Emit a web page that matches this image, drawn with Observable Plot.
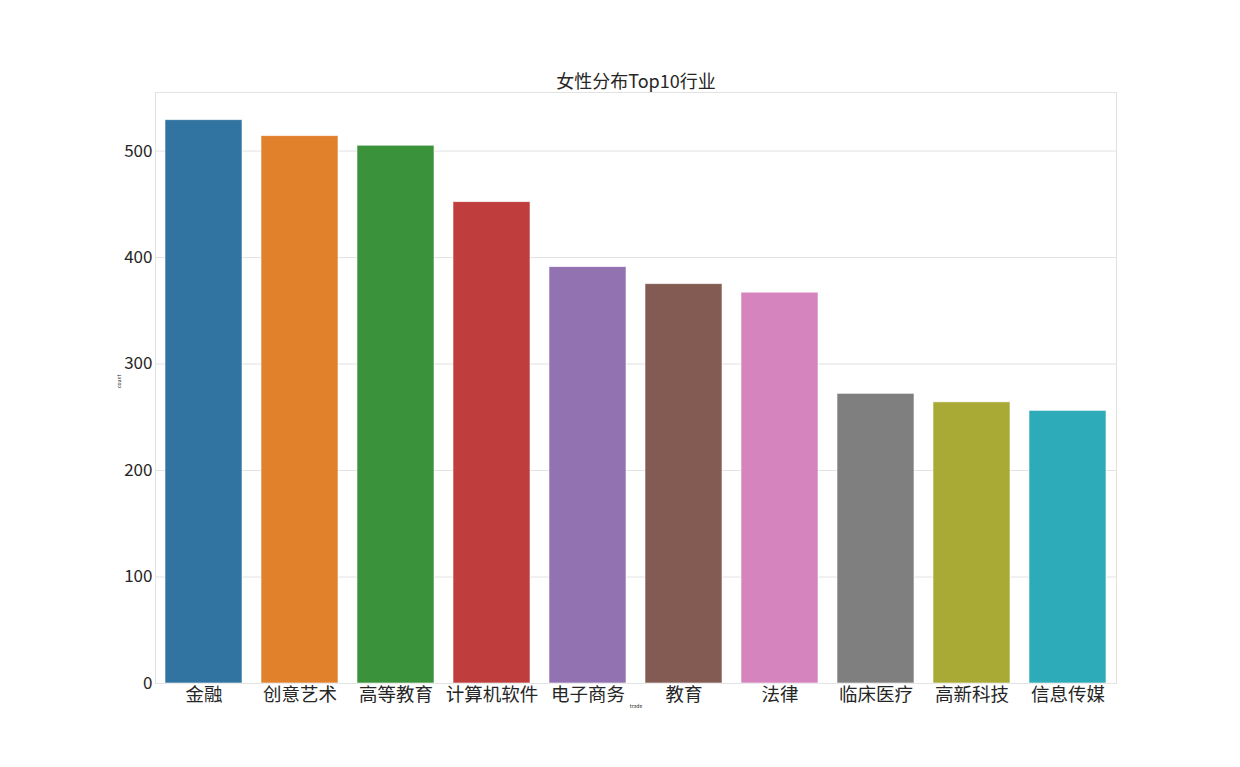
<!DOCTYPE html>
<html>
<head>
<meta charset="utf-8">
<script src="https://cdn.jsdelivr.net/npm/d3@7"></script>
<script src="https://cdn.jsdelivr.net/npm/@observablehq/plot@0.6"></script>
<style>
  html, body { margin: 0; padding: 0; background: #ffffff; }
  #chart { width: 1240px; height: 767px; }
</style>
</head>
<body>
<div id="chart"></div>
<script>
const categories = ["金融", "创意艺术", "高等教育", "计算机软件", "电子商务", "教育", "法律", "临床医疗", "高新科技", "信息传媒"];
const counts = [529, 514, 505, 452, 391, 375, 367, 272, 264, 256];
const colors = ["#3274a1", "#e1812c", "#3a923a", "#c03d3e", "#9372b2", "#845b53", "#d684bd", "#7f7f7f", "#a9aa35", "#2eabb8"];
const yTicks = [0, 100, 200, 300, 400, 500];
const titleText = "女性分布Top10行业";
const xLabel = "trade";
const yLabel = "count";

const data = categories.map((c, i) => ({trade: c, count: counts[i]}));
const font = "'Noto Sans CJK SC', 'Noto Sans', sans-serif";

const chart = Plot.plot({
  width: 1240,
  height: 767,
  marginLeft: 155,
  marginRight: 124,
  marginTop: 92,
  marginBottom: 84,
  style: {fontFamily: font, background: "#ffffff", color: "#262626"},
  x: {domain: categories, paddingInner: 0.2, paddingOuter: 0.1, label: null},
  y: {domain: [0, 555], label: null},
  color: {domain: categories, range: colors},
  marks: [
    Plot.gridY(yTicks, {stroke: "#e2e2e2", strokeOpacity: 1, strokeWidth: 1}),
    Plot.frame({stroke: "#e2e2e2", strokeWidth: 1}),
    Plot.barY(data, {x: "trade", y: "count", fill: "trade", stroke: "#ffffff", strokeWidth: 0.8, strokeOpacity: 0.7}),
    Plot.axisY(yTicks, {tickSize: 0, tickPadding: 3, fontSize: 17, fill: "#262626", label: null}),
    Plot.axisX({tickSize: 0, tickPadding: 4, fontSize: 18.5, fill: "#262626", label: null}),
    Plot.text([titleText], {frameAnchor: "top", dy: -17, fontSize: 18, fill: "#262626"}),
    Plot.text([yLabel], {frameAnchor: "left", dx: -36, rotate: -90, fontSize: 5, fill: "#262626"}),
    Plot.text([xLabel], {frameAnchor: "bottom", dy: 24, fontSize: 5, fill: "#262626"})
  ]
});
document.getElementById("chart").appendChild(chart);
</script>
</body>
</html>
